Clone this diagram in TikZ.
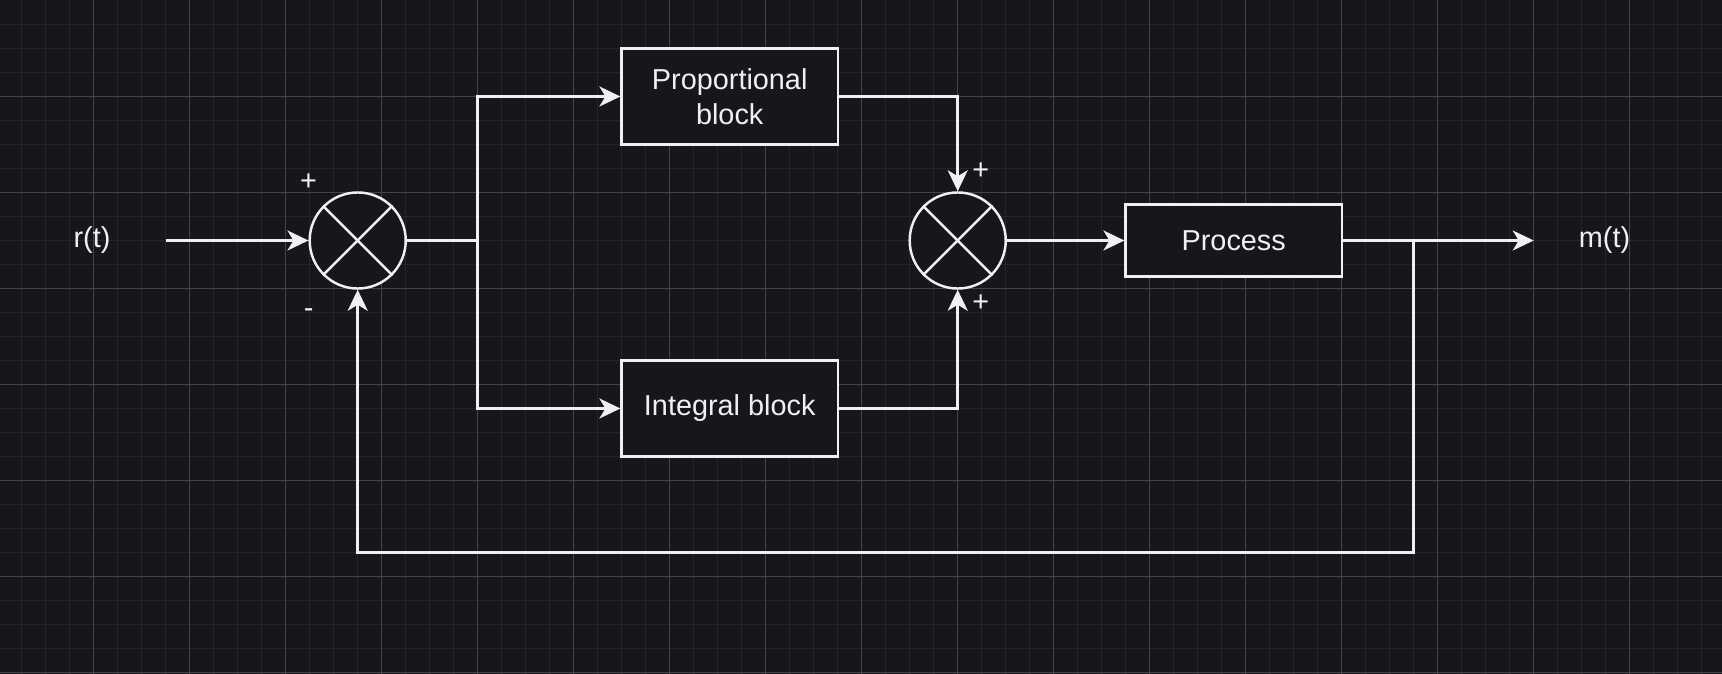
\documentclass[tikz,border=0pt]{standalone}
\usepackage{fontspec}
\setmainfont{Liberation Sans}
\usetikzlibrary{positioning,arrows.meta}
\definecolor{bgdark}{HTML}{18161C}
\definecolor{gridminor}{HTML}{25242A}
\definecolor{gridmajor}{HTML}{45444A}
\definecolor{ink}{HTML}{F0F0F0}

\begin{document}
\begin{tikzpicture}[x=0.01cm,y=-0.01cm,
    blk/.style={draw=ink,fill=bgdark,line width=0.7pt,minimum width=2.16cm,
                minimum height=0.96cm,inner sep=0pt,text=ink,align=center,
                font=\fontsize{8.2}{9.8}\selectfont},
    sum/.style={draw=ink,fill=bgdark,line width=0.7pt,circle,minimum size=0.96cm,inner sep=0pt},
    lbl/.style={text=ink,inner sep=0pt,font=\fontsize{8.2}{9.8}\selectfont},
    arr/.style={-{Stealth[length=0.21cm,width=0.2cm,inset=0.06cm]},ink,line width=0.7pt},
    wire/.style={ink,line width=0.7pt},
    gmin/.style={gridminor,line width=0.3pt},
    gmaj/.style={gridmajor,line width=0.3pt}
  ]
  % Background and grid
  \useasboundingbox (0,0) rectangle (1722,673);
  \fill[bgdark] (-10,-10) rectangle (1732,683);
  \foreach \k in {0,...,71} \draw[gmin] ({21.7+24*\k},-10) -- ++(0,693);
  \foreach \k in {0,...,27} \draw[gmin] (-10,{24.5+24*\k}) -- ++(1742,0);
  \foreach \k in {0,...,16} \draw[gmaj] ({93.7+96*\k},-10) -- ++(0,693);
  \foreach \k in {0,...,6} \draw[gmaj] (-10,{96.5+96*\k}) -- ++(1742,0);

  % Input and first summing point
  \node[lbl] (rin) at (92,240.5) {r(t)};
  \coordinate (rstart) at (165.7,240.5);
  \node[sum] (s1) at (357.7,240.5) {};
  \draw[wire] (s1.north east) -- (s1.south west);
  \draw[wire] (s1.north west) -- (s1.south east);
  \node[lbl] (s1plus) at (308.6,182.3) {+};
  \node[lbl] (s1minus) at (308.6,313) {-};
  \draw[arr] (rstart) -- (s1);

  % P and I branches
  \coordinate (split) at (477.7,240.5);
  \node[blk] (prop) at (729.7,96.5) {Proportional\\block};
  \node[blk] (integ) at (729.7,408.5) {Integral block};
  \draw[wire] (s1.east) -- (split);
  \draw[arr] (split) |- (prop.west);
  \draw[arr] (split) |- (integ.west);

  % Second summing point
  \node[sum] (s2) at (957.7,240.5) {};
  \draw[wire] (s2.north east) -- (s2.south west);
  \draw[wire] (s2.north west) -- (s2.south east);
  \node[lbl] (s2top) at (980.7,171.3) {+};
  \node[lbl] (s2bot) at (980.7,303) {+};
  \draw[arr] (prop.east) -| (s2.north);
  \draw[arr] (integ.east) -| (s2.south);

  % Process, output and feedback
  \node[blk,minimum height=0.72cm] (proc) at (1233.7,240.5) {Process};
  \draw[arr] (s2) -- (proc);
  \coordinate (mend) at (1533.7,240.5);
  \node[lbl] (mout) at (1604.5,240.5) {m(t)};
  \draw[arr] (proc.east) -- (mend);
  \coordinate (tap) at (1413.7,240.5);
  \coordinate (fbk) at (1413.7,552.5);
  \draw[arr] (tap) -- (fbk) -| (s1.south);
\end{tikzpicture}
\end{document}
